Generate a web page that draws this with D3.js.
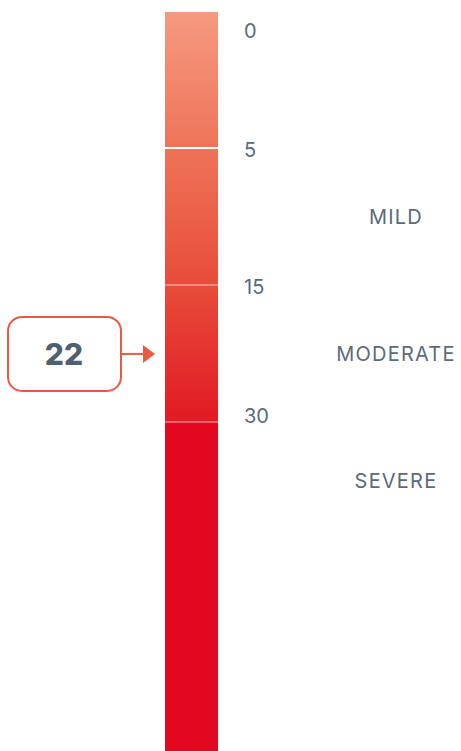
<!DOCTYPE html>
<html><head><meta charset="utf-8">
<script src="https://cdn.jsdelivr.net/npm/d3@7"></script>
<style>html,body{margin:0;padding:0;background:#fff;overflow:hidden}</style>
</head><body>
<svg id="c" width="461" height="751"></svg>
<script>
const tickValues = [0, 5, 15, 30];
const tickLabels = ["0", "5", "15", "30"];
const categories = ["MILD", "MODERATE", "SEVERE"];
const categoryBands = [[5, 15], [15, 30], [30, 43]];
const currentValue = 22;

const W = 461, H = 751;
const barX = 165, barW = 53, barTop = 12;
const y = d3.scaleLinear().domain([0, 5, 15, 30]).range([barTop, 148, 285, 422]);
const svg = d3.select("#c");
const textColor = "#5b6b79";
const font = "Inter, Roboto, 'Noto Sans', sans-serif";

const defs = svg.append("defs");
const g = defs.append("linearGradient").attr("id", "grad")
  .attr("gradientUnits", "userSpaceOnUse")
  .attr("x1", 0).attr("x2", 0).attr("y1", y(0)).attr("y2", y(30));
[[0, "#f59a80"], [0.33, "#ee7459"], [0.66, "#e84d3a"], [0.9, "#e3292b"], [1, "#e11a22"]]
  .forEach(([o, c]) => g.append("stop").attr("offset", o).attr("stop-color", c));

svg.append("rect").attr("x", barX).attr("width", barW)
  .attr("y", y(0)).attr("height", y(30) - y(0)).attr("fill", "url(#grad)");
svg.append("rect").attr("x", barX).attr("width", barW)
  .attr("y", y(30)).attr("height", H - y(30)).attr("fill", "#e3071f");

// separators
svg.selectAll("line.sep").data(tickValues.slice(1)).join("line")
  .attr("x1", barX).attr("x2", barX + barW)
  .attr("y1", d => y(d)).attr("y2", d => y(d))
  .attr("stroke", (d, i) => i === 0 ? "#ffffff" : "rgba(255,255,255,0.35)")
  .attr("stroke-width", 2);

// tick labels
svg.selectAll("text.tick").data(tickValues).join("text")
  .attr("x", 244)
  .attr("y", (d, i) => i === 0 ? y(d) + 26 : (i === tickValues.length - 1 ? y(d) + 1 : y(d) + 9))
  .attr("font-family", font).attr("font-size", 20).attr("fill", textColor)
  .text((d, i) => tickLabels[i]);

// categories
svg.selectAll("text.cat").data(categories).join("text")
  .attr("x", 396)
  .attr("y", (d, i) => (y(categoryBands[i][0]) + y(categoryBands[i][1])) / 2)
  .attr("dy", "0.35em")
  .attr("text-anchor", "middle")
  .attr("font-family", font).attr("font-size", 20).attr("letter-spacing", 1.2).attr("fill", textColor)
  .text(d => d);

// value box
const vy = y(currentValue) + 5;
svg.append("rect").attr("x", 8).attr("y", vy - 37).attr("width", 113).attr("height", 74)
  .attr("rx", 14).attr("fill", "#fff").attr("stroke", "#ec5842").attr("stroke-width", 2);
svg.append("text").attr("x", 64).attr("y", vy).attr("dy", "0.36em").attr("text-anchor", "middle")
  .attr("font-family", font).attr("font-weight", 800).attr("font-size", 30).attr("fill", "#4f6070")
  .text(currentValue);
svg.append("line").attr("x1", 121).attr("x2", 145).attr("y1", vy).attr("y2", vy)
  .attr("stroke", "#ec5842").attr("stroke-width", 2);
svg.append("path").attr("d", `M143,${vy - 9}L155,${vy}L143,${vy + 9}Z`).attr("fill", "#ec5842");
</script>
</body></html>
